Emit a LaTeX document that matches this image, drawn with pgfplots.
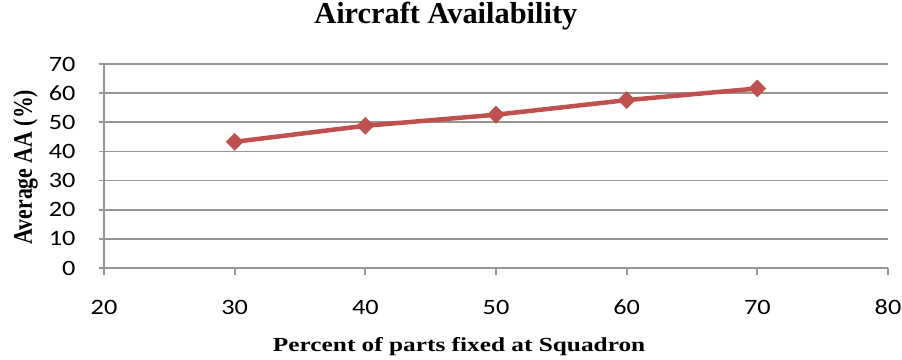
\documentclass[border=0pt]{standalone}
\usepackage{pgfplots}
\pgfplotsset{compat=1.18}
\usepackage{fontspec}
\setmainfont{Carlito}
\newfontfamily\tickfont[FakeStretch=1.2]{Carlito}
\newfontfamily\titlefont{Liberation Serif}
\newfontfamily\xlabfont[FakeStretch=1.27]{Liberation Serif}
\newfontfamily\ylabfont[FakeStretch=0.81]{Liberation Serif}
\definecolor{seriesred}{HTML}{C0504D}
\definecolor{gridgray}{HTML}{959595}
\begin{document}
\begin{tikzpicture}
\useasboundingbox (-104bp,-92bp) rectangle (798bp,268bp);
\begin{axis}[
  scale only axis,
  width=784bp, height=204bp,
  xmin=20, xmax=80, ymin=0, ymax=70,
  xtick={20,30,...,80}, ytick={0,10,...,70},
  axis x line*=bottom, axis y line*=left,
  axis line style={gridgray, line width=1.8bp, -},
  ymajorgrids, grid style={gridgray, line width=1.8bp},
  tick style={gridgray, line width=1.8bp},
  tick align=outside,
  x tick style={/pgfplots/major tick length=7bp},
  y tick style={/pgfplots/major tick length=5bp},
  /pgf/number format/assume math mode=true,
  tick label style={font=\tickfont\fontsize{22}{22}\selectfont, text=black, inner sep=0pt},
  xticklabel style={anchor=base, yshift=-42.7bp},
  yticklabel style={anchor=east, xshift=-24bp},
  title={\bfseries Aircraft Availability},
  title style={at={(axis description cs:0.436,1)}, anchor=base, yshift=35bp,
    inner sep=0pt, font=\titlefont\fontsize{30.5}{30.5}\selectfont},
  xlabel={\bfseries Percent of parts fixed at Squadron},
  xlabel style={at={(axis description cs:0.453,0)}, anchor=base, yshift=-83bp,
    inner sep=0pt, font=\xlabfont\fontsize{20}{20}\selectfont},
  ylabel={\bfseries Average AA (\%)},
  % the label is rotated, so a positive yshift moves it to the left
  ylabel style={at={(axis description cs:0,0.495)}, anchor=base, yshift=72bp,
    inner sep=0pt, font=\ylabfont\fontsize{27}{27}\selectfont},
  clip=false,
]
\addplot[seriesred, line width=4.5bp, mark=square*, mark size=6bp,
  mark options={rotate=45, solid, fill=seriesred, line width=0.5bp}]
  coordinates {(30,43.3) (40,48.8) (50,52.6) (60,57.6) (70,61.6)};
\end{axis}
\end{tikzpicture}
\end{document}
